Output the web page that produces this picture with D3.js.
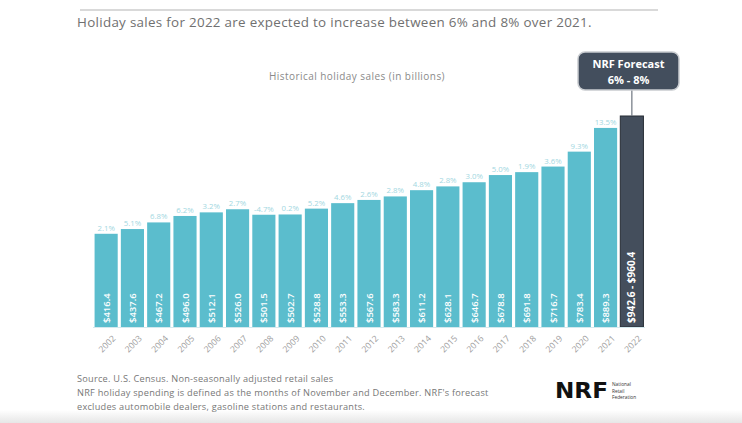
<!DOCTYPE html>
<html>
<head>
<meta charset="utf-8">
<script src="https://cdn.jsdelivr.net/npm/d3@7"></script>
<style>
    html, body { margin: 0; padding: 0; background: #fff; }
    svg { display: block; font-family: "Open Sans", sans-serif; }
</style>
</head>
<body>
<div id="chart"></div>
<script>
const years = ["2002", "2003", "2004", "2005", "2006", "2007", "2008", "2009", "2010", "2011",
    "2012", "2013", "2014", "2015", "2016", "2017", "2018", "2019", "2020", "2021", "2022"];
const sales = [416.4, 437.6, 467.2, 496.0, 512.1, 526.0, 501.5, 502.7, 528.8, 553.3,
    567.6, 583.3, 611.2, 628.1, 646.7, 678.8, 691.8, 716.7, 783.4, 889.3, 942.6];
const growth = ["2.1%", "5.1%", "6.8%", "6.2%", "3.2%", "2.7%", "-4.7%", "0.2%", "5.2%", "4.6%",
    "2.6%", "2.8%", "4.8%", "2.8%", "3.0%", "5.0%", "1.9%", "3.6%", "9.3%", "13.5%", null];
const valueLabels = ["$416.4", "$437.6", "$467.2", "$496.0", "$512.1", "$526.0", "$501.5", "$502.7",
    "$528.8", "$553.3", "$567.6", "$583.3", "$611.2", "$628.1", "$646.7", "$678.8", "$691.8",
    "$716.7", "$783.4", "$889.3", "$942.6 - $960.4"];
const forecastYear = "2022";
const forecastText = ["NRF Forecast", "6% - 8%"];
const footnotes = [
    "Source. U.S. Census. Non-seasonally adjusted retail sales",
    "NRF holiday spending is defined as the months of November and December. NRF's forecast",
    "excludes automobile dealers, gasoline stations and restaurants."
];

const data = years.map((y, i) => ({ year: y, value: sales[i], pct: growth[i], label: valueLabels[i] }));

const width = 742;
const height = 423;
const baseline = 327;

const svg = d3.select("#chart").append("svg")
    .attr("width", width)
    .attr("height", height)
    .attr("viewBox", [0, 0, width, height]);

const defs = svg.append("defs");
const fade = defs.append("linearGradient")
    .attr("id", "bottom-fade")
    .attr("x1", "0%").attr("x2", "0%").attr("y1", "0%").attr("y2", "100%");
fade.append("stop").attr("offset", "0%").attr("stop-color", "#ffffff");
fade.append("stop").attr("offset", "100%").attr("stop-color", "#e6e6e6");

svg.append("rect")
    .attr("x", 0).attr("y", 410).attr("width", width).attr("height", 13)
    .attr("fill", "url(#bottom-fade)");

// faint rule at top
svg.append("line")
    .attr("x1", 80).attr("x2", 658).attr("y1", 10).attr("y2", 10)
    .attr("stroke", "#d9d9d9").attr("stroke-width", 2);

svg.append("text")
    .attr("x", 77).attr("y", 27)
    .attr("font-size", 13.4)
    .attr("letter-spacing", 0.3)
    .attr("fill", "#707070")
    .text("Holiday sales for 2022 are expected to increase between 6% and 8% over 2021.");

svg.append("text")
    .attr("x", 357).attr("y", 80)
    .attr("text-anchor", "middle")
    .attr("font-size", 10)
    .attr("letter-spacing", 0.45)
    .attr("fill", "#8a8a8a")
    .text("Historical holiday sales (in billions)");

const x = d3.scaleBand()
    .domain(years)
    .range([93, 645])
    .paddingInner(0.12)
    .paddingOuter(0.06);

const y = d3.scaleLinear()
    .domain([0, 942.6])
    .range([baseline, 116]);

const isForecast = (d) => d.year === forecastYear;

svg.append("g")
    .selectAll("rect")
    .data(data)
    .join("rect")
    .attr("x", (d) => x(d.year))
    .attr("y", (d) => y(d.value))
    .attr("width", x.bandwidth())
    .attr("height", (d) => y(0) - y(d.value))
    .attr("fill", (d) => isForecast(d) ? "#444e5c" : "#5bbdcd")
    .attr("stroke", (d) => isForecast(d) ? "#262c34" : "none")
    .attr("stroke-width", 1);

// baseline
svg.append("line")
    .attr("x1", x.range()[0]).attr("x2", x.range()[1])
    .attr("y1", baseline + 0.5).attr("y2", baseline + 0.5)
    .attr("stroke", "#d4e9ee").attr("stroke-width", 1);

// growth percentages
svg.append("g")
    .selectAll("text")
    .data(data.filter((d) => d.pct))
    .join("text")
    .attr("x", (d) => x(d.year) + x.bandwidth() / 2)
    .attr("y", (d) => y(d.value) - 3)
    .attr("text-anchor", "middle")
    .attr("font-size", 7.8)
    .attr("fill", "#a3d7e1")
    .text((d) => d.pct);

// values inside bars
svg.append("g")
    .selectAll("text")
    .data(data)
    .join("text")
    .attr("transform", (d) => `translate(${x(d.year) + x.bandwidth() / 2 + 3.5}, ${baseline - 4}) rotate(-90)`)
    .attr("font-size", (d) => isForecast(d) ? 10 : 9.5)
    .attr("font-weight", (d) => isForecast(d) ? 700 : 600)
    .attr("fill", "#ffffff")
    .text((d) => d.label);

// year labels
svg.append("g")
    .selectAll("text")
    .data(data)
    .join("text")
    .attr("transform", (d) => `translate(${x(d.year) + x.bandwidth() / 2 + 5}, ${baseline + 7}) rotate(-45)`)
    .attr("text-anchor", "end")
    .attr("dominant-baseline", "hanging")
    .attr("font-size", 8.6)
    .attr("fill", "#9d9d9d")
    .text((d) => d.year);

// forecast callout
const fx = x(forecastYear) + x.bandwidth() / 2;
const fd = data.find(isForecast);
svg.append("line")
    .attr("x1", fx).attr("x2", fx)
    .attr("y1", 90).attr("y2", y(fd.value))
    .attr("stroke", "#6f7680").attr("stroke-width", 1.2);

svg.append("rect")
    .attr("x", 578).attr("y", 52).attr("width", 101).attr("height", 38)
    .attr("rx", 7)
    .attr("fill", "#434e5d")
    .attr("stroke", "#c9ccd0")
    .attr("stroke-width", 1.5);

svg.append("g")
    .selectAll("text")
    .data(forecastText)
    .join("text")
    .attr("x", 628.5)
    .attr("y", (_, i) => 68 + i * 16)
    .attr("text-anchor", "middle")
    .attr("font-size", 11)
    .attr("font-weight", 700)
    .attr("fill", "#ffffff")
    .text((d) => d);

// footnotes
svg.append("g")
    .selectAll("text")
    .data(footnotes)
    .join("text")
    .attr("x", 77)
    .attr("y", (_, i) => 382 + i * 14)
    .attr("font-size", 9.2)
    .attr("letter-spacing", 0.25)
    .attr("fill", "#777777")
    .text((d) => d);

// NRF logo
svg.append("text")
    .attr("x", 555).attr("y", 398)
    .attr("font-family", "DejaVu Sans, sans-serif")
    .attr("font-size", 21)
    .attr("font-weight", 700)
    .attr("textLength", 53)
    .attr("lengthAdjust", "spacingAndGlyphs")
    .attr("fill", "#111111")
    .text("NRF");

svg.append("g")
    .selectAll("text")
    .data(["National", "Retail", "Federation"])
    .join("text")
    .attr("x", 612)
    .attr("y", (_, i) => 386 + i * 6.5)
    .attr("font-size", 4.8)
    .attr("fill", "#333333")
    .text((d) => d);
</script>
</body>
</html>
